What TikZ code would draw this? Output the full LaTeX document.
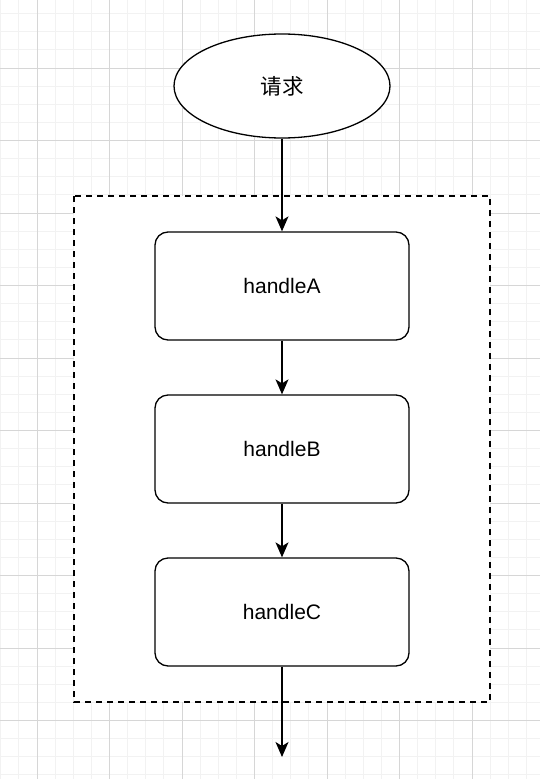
\documentclass[tikz,border=0pt]{standalone}
\usepackage{fontspec}
\setmainfont{Liberation Sans}
\newfontfamily\cjk{Noto Sans CJK SC}
\usetikzlibrary{arrows.meta,shapes.geometric}
\definecolor{gridminor}{HTML}{F2F2F2}
\definecolor{gridmajor}{HTML}{D6D6D6}
\tikzset{
  handlebox/.style={draw=black, line width=1.3pt, rounded corners=13pt, minimum width=254pt, minimum height=108pt, inner sep=0pt, font=\fontsize{21}{25}\selectfont},
  reqshape/.style={draw=black, line width=1.3pt, ellipse, minimum width=216pt, minimum height=104pt, inner sep=0pt, font=\cjk\fontsize{21.5}{25}\selectfont},
  conn/.style={draw=black, line width=1.3pt, -{Stealth[length=15pt,width=13pt,inset=4pt]}},
  groupframe/.style={draw=black, line width=1.3pt, dash pattern=on 6pt off 5pt}
}
\begin{document}
\begin{tikzpicture}[x=1pt,y=-1pt]
\useasboundingbox (0,0) rectangle (540,779);
\fill[white] (0,0) rectangle (540,779);
% grid
\foreach \i in {0,...,30} {
  \draw[gridminor, line width=0.8pt] ({0.75+18.125*\i},0) -- ({0.75+18.125*\i},779);
}
\foreach \i in {0,...,43} {
  \draw[gridminor, line width=0.8pt] (0,{13.6+18.125*\i}) -- (540,{13.6+18.125*\i});
}
\foreach \i in {0,...,7} {
  \draw[gridmajor, line width=0.8pt] ({37+72.5*\i},0) -- ({37+72.5*\i},779);
}
\foreach \i in {0,...,10} {
  \draw[gridmajor, line width=0.8pt] (0,{-4.5+72.5*\i}) -- (540,{-4.5+72.5*\i});
}
% group frame
\fill[white] (74,196) rectangle (490,702);
\draw[groupframe] (74,196) rectangle (490,702);
% nodes
\node[reqshape, fill=white] (req) at (282,86) {请求};
\node[handlebox, fill=white] (ha) at (282,286) {handleA};
\node[handlebox, fill=white] (hb) at (282,449) {handleB};
\node[handlebox, fill=white] (hc) at (282,612) {handleC};
\coordinate (end) at (282,757);
% connectors
\draw[conn] (req) -- (ha);
\draw[conn] (ha) -- (hb);
\draw[conn] (hb) -- (hc);
\draw[conn] (hc) -- (end);
\end{tikzpicture}
\end{document}
